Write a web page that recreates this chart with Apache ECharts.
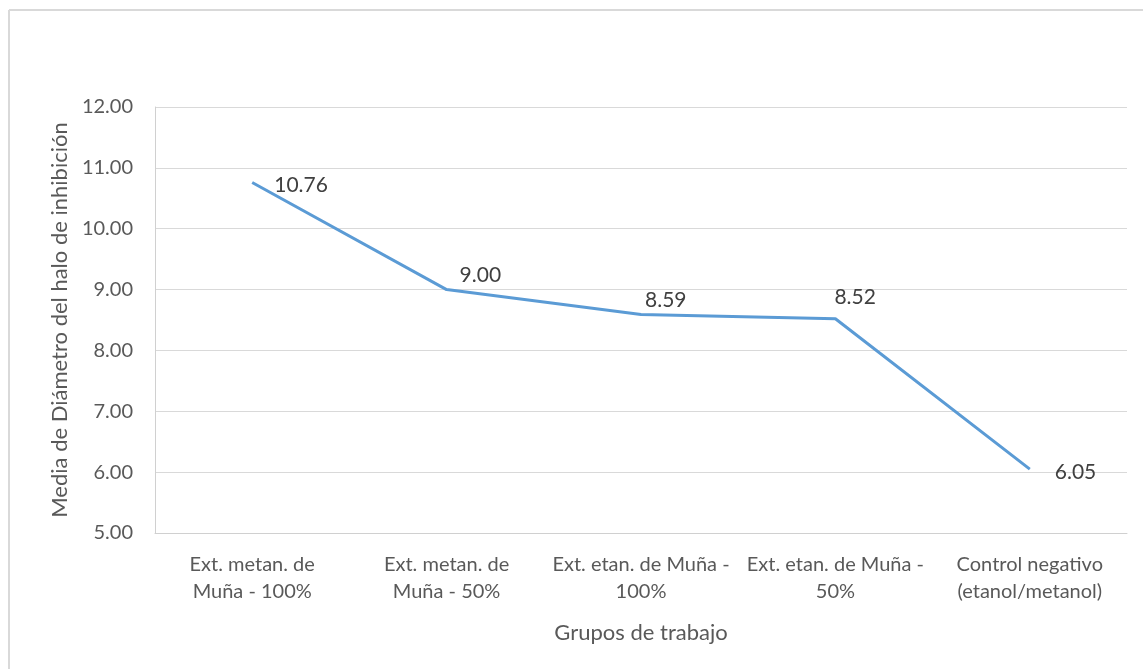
<!DOCTYPE html>
<html>
<head>
<meta charset="utf-8">
<script src="https://cdn.jsdelivr.net/npm/echarts@6/dist/echarts.min.js"></script>
<style>
  html, body { margin: 0; padding: 0; background: #fff; }
  #chart { width: 1143px; height: 669px; }
</style>
</head>
<body>
<div id="chart"></div>
<script>
// datos
const categories = [
  'Ext. metan. de\nMuña - 100%',
  'Ext. metan. de\nMuña - 50%',
  'Ext. etan. de Muña -\n100%',
  'Ext. etan. de Muña -\n50%',
  'Control negativo\n(etanol/metanol)'
]
const medias = [10.76, 9.00, 8.59, 8.52, 6.05]
const yMin = 5
const yMax = 12
const yStep = 1

// posicion de las etiquetas (como en Excel, a la derecha / arriba)
const labelPos = [
  { distance: 22, offset: [0, 3] },
  { distance: 13, offset: [0, -14] },
  { distance: 4, offset: [0, -14] },
  { distance: -1, offset: [0, -22] },
  { distance: 25, offset: [0, 3] }
]

const font = 'Lato, "Open Sans", sans-serif'
const myChart = echarts.init(document.getElementById('chart'))
myChart.setOption({
  backgroundColor: '#fff',
  animation: false,
  graphic: [
    { type: 'line', shape: { x1: 9, y1: 10, x2: 1143, y2: 10 }, style: { stroke: '#d9d9d9', lineWidth: 2 } },
    { type: 'line', shape: { x1: 9, y1: 10, x2: 9, y2: 669 }, style: { stroke: '#d9d9d9', lineWidth: 2 } }
  ],
  grid: {
    left: 155,
    right: 16,
    top: 107,
    bottom: 136
  },
  xAxis: {
    type: 'category',
    data: categories,
    boundaryGap: true,
    name: 'Grupos de trabajo',
    nameLocation: 'middle',
    nameGap: 89,
    nameTextStyle: { color: '#595959', fontSize: 22, fontFamily: font },
    axisLine: { show: true, lineStyle: { color: '#d0d0d0', width: 1 } },
    axisTick: { show: false },
    axisLabel: {
      color: '#595959',
      fontSize: 20,
      fontFamily: font,
      lineHeight: 27,
      margin: 18,
      interval: 0
    }
  },
  yAxis: {
    type: 'value',
    min: yMin,
    max: yMax,
    interval: yStep,
    name: 'Media de Diámetro del halo de inhibición',
    nameLocation: 'middle',
    nameGap: 80,
    nameTextStyle: { color: '#595959', fontSize: 22, fontFamily: font },
    axisLine: { show: true, lineStyle: { color: '#d0d0d0', width: 1 } },
    axisTick: { show: false },
    splitLine: { show: true, lineStyle: { color: '#d9d9d9', width: 1 } },
    axisLabel: {
      color: '#595959',
      fontSize: 20,
      fontFamily: font,
      margin: 22,
      formatter: function(v) { return v.toFixed(2) }
    }
  },
  series: [{
    type: 'line',
    symbol: 'circle',
    symbolSize: 0,
    showAllSymbol: true,
    lineStyle: { color: '#5b9bd5', width: 3 },
    itemStyle: { color: '#5b9bd5' },
    label: {
      show: true,
      position: 'right',
      color: '#404040',
      fontSize: 21,
      fontFamily: font,
      formatter: function(p) { return p.value.toFixed(2) }
    },
    data: medias.map(function(v, i) {
      return { value: v, label: labelPos[i] }
    })
  }]
})
</script>
</body>
</html>
